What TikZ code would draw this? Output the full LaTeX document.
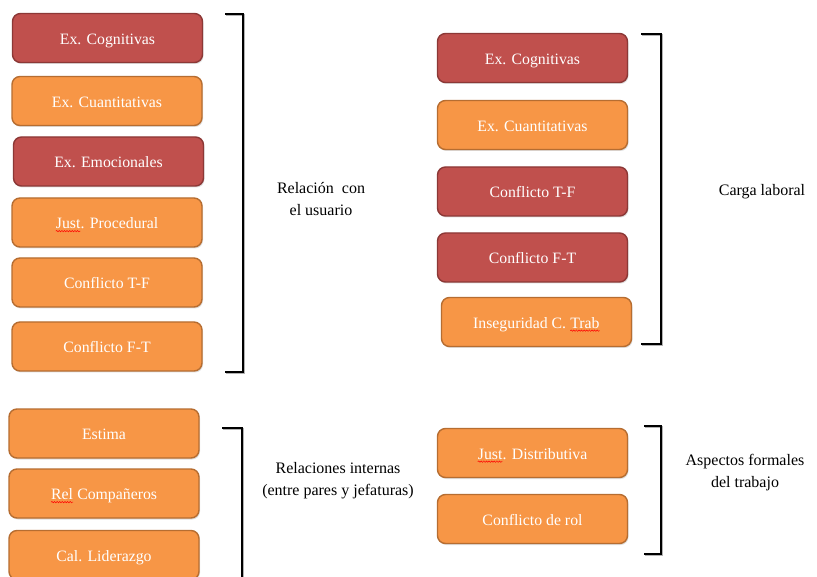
\documentclass[tikz,border=0pt]{standalone}
\usepackage{fontspec}
\setmainfont{Liberation Serif}
\usetikzlibrary{shadows,decorations.pathmorphing}

\definecolor{redfill}{HTML}{C0504D}
\definecolor{redline}{HTML}{8C3836}
\definecolor{orangefill}{HTML}{F79646}
\definecolor{orangeline}{HTML}{B66D31}

% spell-check style red wavy underline under a word
\newcommand{\wavyword}[1]{\tikz[baseline=(ww.base),x=1pt,y=1pt,sharp corners,line width=0.5pt]{%
  \node[inner sep=0pt,outer sep=0pt,draw=none,fill=none,minimum width=0pt,minimum height=0pt,
        text height=,text depth=] (ww) {#1};
  \draw[red,sharp corners,decorate,decoration={snake,amplitude=0.7pt,segment length=2.6pt}]
    ([yshift=-2.4pt]ww.base west) -- ([yshift=-2.4pt]ww.base east);}}

\tikzset{
  boxbase/.style={rounded corners=8pt, line width=1.4pt, minimum width=190pt,
    minimum height=49pt, inner sep=0pt, text=white,
    text height=16.5pt, text depth=4pt,
    font=\fontsize{15.8}{19}\selectfont,
    drop shadow={shadow xshift=1pt, shadow yshift=-1.5pt, opacity=0.25}},
  redbox/.style={boxbase, fill=redfill, draw=redline},
  orangebox/.style={boxbase, fill=orangefill, draw=orangeline},
  bracket/.style={line width=1.8pt, black, line cap=butt,
    preaction={draw=black!30, line width=2.2pt, transform canvas={xshift=1pt,yshift=-1.2pt}}},
  grouplabel/.style={align=center, text=black, inner sep=0pt,
    font=\fontsize{16}{22}\selectfont}
}

\begin{document}
\begin{tikzpicture}[x=1pt,y={(0pt,-1pt)}]
\useasboundingbox (0,0) rectangle (817,577);
\fill[white] (0,0) rectangle (817,577);

% relación con el usuario
\node[redbox]    (l1) at (107.5,38)  {Ex. Cognitivas};
\node[orangebox] (l2) at (107,101)   {Ex. Cuantitativas};
\node[redbox]    (l3) at (108.5,161.5) {Ex. Emocionales};
\node[orangebox] (l4) at (107,222.5) {\wavyword{Just}. Procedural};
\node[orangebox] (l5) at (107,282.5) {Conflicto T-F};
\node[orangebox] (l6) at (107,346.5) {Conflicto F-T};

\coordinate (b1a) at (225,14);
\coordinate (b1b) at (243,14);
\coordinate (b1c) at (243,372);
\coordinate (b1d) at (225,372);
\draw[bracket] (b1a) -- (b1b) -- (b1c) -- (b1d);
\node[grouplabel] (t1) at (321,199) {Relación\ \ con\\el usuario};

% carga laboral
\node[redbox]    (r1) at (532.5,58)  {Ex. Cognitivas};
\node[orangebox] (r2) at (532.5,125) {Ex. Cuantitativas};
\node[redbox]    (r3) at (532.5,191.5) {Conflicto T-F};
\node[redbox]    (r4) at (532.5,257.5) {Conflicto F-T};
\node[orangebox] (r5) at (536.5,322) {Inseguridad C. \wavyword{Trab}};

\coordinate (b2a) at (641,34);
\coordinate (b2b) at (661,34);
\coordinate (b2c) at (661,344);
\coordinate (b2d) at (641,344);
\draw[bracket] (b2a) -- (b2b) -- (b2c) -- (b2d);
\node[grouplabel] (t2) at (762,192) {Carga laboral};

% relaciones internas
\node[orangebox] (e1) at (104,433.5) {Estima};
\node[orangebox] (e2) at (104,493.5) {\wavyword{Rel} Compañeros};
\node[orangebox] (e3) at (104,555)   {Cal. Liderazgo};

\coordinate (b3a) at (222,428);
\coordinate (b3b) at (242,428);
\coordinate (b3c) at (242,590);
\draw[bracket] (b3a) -- (b3b) -- (b3c);
\node[grouplabel] (t3) at (338,481) {Relaciones internas\\(entre pares y jefaturas)};

% aspectos formales del trabajo
\node[orangebox] (d1) at (532.5,453) {\wavyword{Just}. Distributiva};
\node[orangebox] (d2) at (532.5,519) {Conflicto de rol};

\coordinate (b4a) at (644,426);
\coordinate (b4b) at (661,426);
\coordinate (b4c) at (661,554);
\coordinate (b4d) at (644,554);
\draw[bracket] (b4a) -- (b4b) -- (b4c) -- (b4d);
\node[grouplabel] (t4) at (745,473) {Aspectos formales\\del trabajo};
\end{tikzpicture}
\end{document}
